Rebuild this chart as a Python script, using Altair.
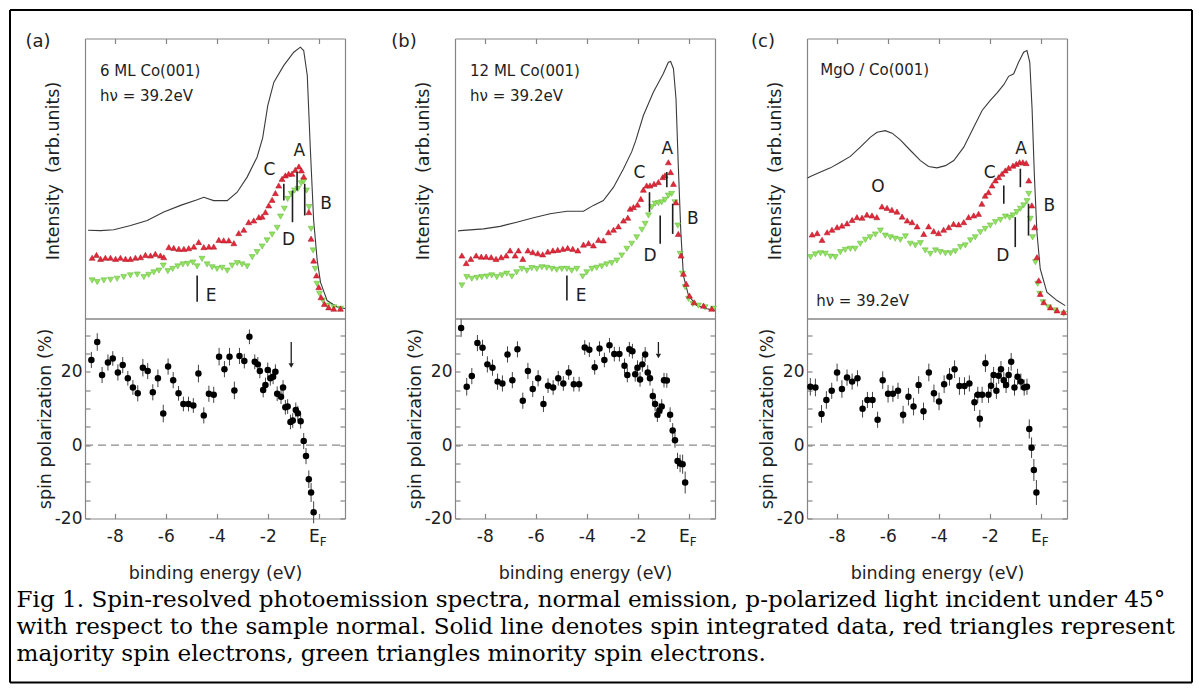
import altair as alt
import pandas as pd

# ---------------------------------------------------------------- styles
SANS = "DejaVu Sans"
SERIF = "DejaVu Serif"
FRAME = "#858585"
INK = "#1e1e1e"
LINE_C = "#3a3a3a"
RED_FILL, RED_EDGE = "#e4283c", "#a8141f"
GREEN_FILL, GREEN_EDGE = "#92e25e", "#5cb43a"

X_DOMAIN = [-9.17, 1.03]
INT_DOMAIN = [0, 100]
POL_DOMAIN = [-20, 34.5]
PW, TOP_H, BOT_H = 260, 280, 200
X_TICKS = [-8, -6, -4, -2, 0]
P_TICKS = [-20, -15, -10, -5, 0, 5, 10, 15, 20, 25, 30]

# ---------------------------------------------------------------- data (a) 6 ML Co(001)
A_LINE = [(-9.05, 31.5), (-8.56, 31.4), (-8.04, 31.7), (-7.38, 33.2), (-6.73, 35.0), (-6.08, 38.0),
          (-5.42, 40.4), (-4.77, 42.4), (-4.51, 43.3), (-4.12, 42.1), (-3.59, 42.1), (-3.20, 45.1),
          (-2.81, 50.5), (-2.42, 57.6), (-2.20, 64.5), (-2.00, 76.0), (-1.76, 84.4), (-1.37, 90.4),
          (-0.98, 95.1), (-0.72, 96.9), (-0.59, 95.7), (-0.45, 86.8), (-0.33, 60.6), (-0.20, 35.0),
          (-0.06, 20.7), (0.07, 12.9), (0.33, 6.4), (0.72, 4.1), (1.03, 3.6)]
A_RED = [(-8.89, 21.7), (-8.72, 22.7), (-8.56, 21.3), (-8.37, 21.7), (-8.17, 21.7), (-7.97, 21.3),
         (-7.78, 21.7), (-7.58, 21.3), (-7.39, 21.3), (-7.19, 21.7), (-6.99, 21.9), (-6.80, 22.7),
         (-6.60, 22.5), (-6.41, 23.1), (-6.21, 22.5), (-6.08, 21.9), (-5.88, 25.5), (-5.69, 25.2),
         (-5.49, 24.9), (-5.29, 24.9), (-5.10, 25.1), (-4.90, 25.7), (-4.71, 27.3), (-4.51, 25.5),
         (-4.31, 25.7), (-4.12, 25.7), (-3.92, 28.1), (-3.73, 27.9), (-3.53, 27.9), (-3.33, 26.9),
         (-3.14, 30.5), (-2.94, 31.7), (-2.75, 34.4), (-2.55, 35.0), (-2.35, 36.2), (-2.22, 36.4),
         (-2.09, 38.0), (-1.96, 40.4), (-1.83, 42.4), (-1.70, 44.8), (-1.57, 47.5), (-1.44, 49.9),
         (-1.31, 51.1), (-1.18, 51.7), (-1.05, 51.7), (-0.92, 53.1), (-0.78, 54.3), (-0.68, 52.9),
         (-0.59, 50.7), (-0.39, 38.0), (-0.30, 28.5), (-0.20, 20.7), (-0.09, 15.4), (0.00, 11.2),
         (0.09, 7.6), (0.22, 5.2), (0.39, 4.0), (0.59, 3.5), (0.85, 3.5)]
A_GREEN = [(-8.89, 13.6), (-8.69, 13.0), (-8.43, 13.6), (-8.17, 13.8), (-7.91, 14.2), (-7.65, 14.8),
           (-7.39, 15.4), (-7.12, 15.7), (-6.86, 14.8), (-6.67, 15.6), (-6.47, 16.5), (-6.27, 17.1),
           (-6.10, 18.9), (-5.92, 16.9), (-5.73, 17.7), (-5.53, 18.6), (-5.33, 19.3), (-5.14, 19.5),
           (-4.94, 20.0), (-4.77, 18.6), (-4.58, 21.3), (-4.38, 19.3), (-4.18, 18.3), (-3.99, 17.7),
           (-3.79, 18.1), (-3.59, 17.1), (-3.40, 18.9), (-3.20, 19.8), (-3.01, 19.3), (-2.81, 18.6),
           (-2.61, 21.9), (-2.42, 23.7), (-2.22, 25.7), (-2.03, 27.9), (-1.83, 30.0), (-1.63, 32.4),
           (-1.50, 36.4), (-1.35, 39.2), (-1.22, 42.7), (-1.08, 44.5), (-0.95, 45.7), (-0.82, 46.3),
           (-0.69, 48.3), (-0.59, 49.0), (-0.48, 45.7), (-0.38, 39.8), (-0.30, 32.0), (-0.22, 24.3),
           (-0.14, 17.7), (-0.07, 12.4), (0.03, 8.8), (0.16, 6.4), (0.35, 4.6), (0.59, 4.0), (0.85, 3.5)]
A_MARKS = [("C", -1.37, 42.1, 48.1), ("A", -0.85, 45.7, 52.3), ("D", -1.03, 34.4, 45.7),
           ("B", -0.55, 36.8, 48.1), ("E", -4.77, 6.0, 15.4)]
A_LETTERS = [("A", -0.76, 59.9), ("C", -1.93, 52.9), ("B", 0.29, 41.0), ("D", -1.18, 27.9), ("E", -4.22, 8.2)]
A_NOTES = [("6 ML Co(001)", -8.58, 88.3), ("hν = 39.2eV", -8.58, 79.3)]
A_POL = [(-8.92, 23.2, 2.2), (-8.69, 28.1, 2.4), (-8.50, 19.1, 2.2), (-8.27, 22.5, 2.2), (-8.08, 23.6, 2.0),
         (-7.88, 19.8, 2.2), (-7.69, 21.8, 2.2), (-7.49, 18.2, 2.0), (-7.29, 15.7, 2.0), (-7.10, 14.1, 2.2),
         (-6.90, 21.1, 2.4), (-6.71, 20.2, 2.2), (-6.51, 14.4, 2.2), (-6.31, 18.2, 2.4), (-6.10, 8.6, 2.4),
         (-5.91, 21.4, 2.2), (-5.71, 17.7, 2.2), (-5.50, 14.1, 2.0), (-5.31, 11.2, 2.0), (-5.11, 11.2, 2.0),
         (-4.92, 10.8, 2.0), (-4.72, 19.5, 2.4), (-4.51, 8.1, 2.2), (-4.31, 14.0, 2.2), (-4.12, 13.7, 2.2),
         (-3.91, 24.1, 2.4), (-3.70, 20.7, 2.2), (-3.50, 24.1, 2.4), (-3.31, 14.9, 2.4), (-3.11, 24.3, 2.2),
         (-2.92, 22.9, 2.0), (-2.72, 29.5, 2.0), (-2.51, 22.7, 2.0), (-2.39, 22.0, 2.0), (-2.31, 20.2, 2.0),
         (-2.18, 15.0, 2.0), (-2.09, 16.4, 2.0), (-2.00, 20.5, 2.0), (-1.90, 18.2, 2.0), (-1.79, 18.6, 2.0),
         (-1.70, 20.0, 2.0), (-1.63, 14.0, 2.0), (-1.48, 13.2, 2.0), (-1.40, 15.7, 2.0), (-1.31, 10.3, 2.0),
         (-1.22, 10.5, 2.0), (-1.11, 6.3, 2.0), (-1.02, 6.7, 2.0), (-0.90, 9.6, 2.0), (-0.82, 8.7, 2.0),
         (-0.71, 6.5, 2.0), (-0.59, 1.1, 2.2), (-0.50, -3.0, 2.2), (-0.39, -9.3, 2.4), (-0.30, -12.9, 2.6),
         (-0.20, -18.3, 3.0)]
A_ARROW = (-1.08, 28.1, 22.2, 21.7)   # energy, tail top, tail end, head centre

# ---------------------------------------------------------------- data (b) 12 ML Co(001)
B_LINE = [(-9.05, 31.2), (-8.97, 31.4), (-8.05, 32.0), (-7.40, 32.9), (-6.75, 34.4), (-6.09, 36.0),
          (-5.44, 37.4), (-4.78, 38.3), (-4.13, 38.3), (-3.74, 40.4), (-3.35, 42.1), (-2.95, 46.9),
          (-2.56, 53.5), (-2.24, 59.5), (-2.08, 63.5), (-1.78, 72.5), (-1.39, 80.8), (-1.00, 87.4),
          (-0.80, 91.5), (-0.71, 91.8), (-0.60, 89.2), (-0.50, 78.5), (-0.41, 54.6), (-0.31, 30.8),
          (-0.21, 15.4), (-0.01, 8.2), (0.31, 4.6), (0.71, 3.5), (1.03, 2.9)]
B_RED = [(-8.90, 22.5), (-8.73, 19.8), (-8.55, 21.3), (-8.34, 22.5), (-8.14, 22.1), (-7.95, 22.1),
         (-7.75, 21.9), (-7.56, 21.3), (-7.36, 21.9), (-7.16, 22.5), (-7.01, 24.3), (-6.81, 22.5),
         (-6.68, 24.3), (-6.51, 21.3), (-6.31, 24.3), (-6.12, 23.7), (-5.92, 23.3), (-5.73, 22.9),
         (-5.53, 23.9), (-5.33, 24.3), (-5.14, 24.5), (-4.94, 24.9), (-4.75, 25.2), (-4.55, 24.9),
         (-4.35, 24.3), (-4.13, 26.4), (-3.93, 26.9), (-3.74, 26.1), (-3.54, 28.1), (-3.35, 27.9),
         (-3.15, 30.8), (-2.95, 31.7), (-2.76, 32.9), (-2.56, 35.0), (-2.39, 36.0), (-2.30, 39.2),
         (-2.17, 39.8), (-2.01, 40.7), (-1.88, 42.7), (-1.78, 46.0), (-1.65, 47.5), (-1.52, 47.5),
         (-1.36, 48.1), (-1.19, 48.7), (-1.02, 50.5), (-0.93, 51.1), (-0.80, 55.8), (-0.71, 52.3),
         (-0.60, 48.1), (-0.50, 41.5), (-0.41, 30.2), (-0.30, 22.5), (-0.21, 16.0), (-0.10, 12.4),
         (0.03, 8.2), (0.21, 5.8), (0.58, 4.6), (0.90, 3.5)]
B_GREEN = [(-8.90, 11.8), (-8.71, 14.8), (-8.51, 14.2), (-8.31, 14.5), (-8.12, 14.8), (-7.92, 15.0),
           (-7.73, 15.4), (-7.53, 14.8), (-7.33, 15.4), (-7.14, 16.0), (-6.94, 15.0), (-6.75, 16.5),
           (-6.55, 17.7), (-6.35, 17.1), (-6.16, 18.0), (-5.96, 17.7), (-5.76, 18.3), (-5.57, 18.1),
           (-5.37, 17.7), (-5.18, 17.4), (-4.98, 17.7), (-4.78, 17.7), (-4.59, 17.1), (-4.39, 17.7),
           (-4.16, 15.0), (-4.00, 16.5), (-3.80, 17.7), (-3.61, 18.1), (-3.41, 18.6), (-3.22, 19.3),
           (-3.02, 19.8), (-2.82, 20.7), (-2.63, 22.5), (-2.43, 24.9), (-2.24, 26.7), (-2.04, 29.0),
           (-1.84, 31.7), (-1.71, 33.8), (-1.58, 36.8), (-1.45, 39.8), (-1.32, 41.0), (-1.19, 41.2),
           (-1.06, 41.5), (-0.93, 42.4), (-0.80, 43.9), (-0.67, 44.5), (-0.54, 41.5), (-0.43, 33.2),
           (-0.34, 23.1), (-0.25, 16.0), (-0.14, 11.2), (-0.01, 7.0), (0.16, 5.2), (0.38, 4.6),
           (0.64, 4.0), (0.97, 3.5)]
B_MARKS = [("A", -0.86, 46.9, 52.3), ("C", -1.54, 38.0, 45.1), ("B", -0.63, 30.2, 41.0),
           ("D", -1.12, 26.7, 36.8), ("E", -4.78, 6.4, 15.4)]
B_LETTERS = [("A", -0.84, 60.6), ("C", -1.93, 52.0), ("B", 0.16, 35.4), ("D", -1.52, 22.3), ("E", -4.22, 8.2)]
B_NOTES = [("12 ML Co(001)", -8.58, 88.3), ("hν = 39.2eV", -8.58, 79.3)]
B_POL = [(-8.93, 31.9, 2.4), (-8.71, 15.9, 2.4), (-8.51, 18.8, 2.2), (-8.29, 27.8, 2.2), (-8.09, 26.5, 2.2),
         (-7.90, 22.0, 2.2), (-7.70, 21.1, 2.2), (-7.50, 17.3, 2.2), (-7.31, 16.8, 2.2), (-7.11, 24.7, 2.2),
         (-6.92, 17.7, 2.2), (-6.72, 26.1, 2.2), (-6.51, 12.1, 2.2), (-6.31, 20.2, 2.2), (-6.12, 15.3, 2.2),
         (-5.91, 18.2, 2.2), (-5.70, 11.2, 2.2), (-5.52, 16.2, 2.0), (-5.32, 15.7, 2.0), (-5.12, 18.2, 2.0),
         (-4.92, 16.8, 2.0), (-4.71, 19.8, 2.0), (-4.51, 16.6, 2.0), (-4.30, 16.6, 2.0), (-4.08, 26.6, 2.0),
         (-3.90, 26.0, 2.0), (-3.69, 21.2, 2.0), (-3.50, 26.3, 2.0), (-3.31, 23.2, 2.0), (-3.11, 27.2, 2.0),
         (-2.92, 24.8, 2.0), (-2.72, 24.8, 2.0), (-2.52, 21.6, 2.0), (-2.41, 19.1, 2.0), (-2.33, 26.1, 2.0),
         (-2.21, 25.6, 2.0), (-2.10, 19.3, 2.0), (-2.01, 21.1, 2.0), (-1.91, 17.9, 2.0), (-1.82, 22.0, 2.0),
         (-1.71, 24.7, 2.0), (-1.61, 19.8, 2.0), (-1.52, 18.2, 2.0), (-1.41, 13.4, 2.0), (-1.32, 11.2, 2.0),
         (-1.23, 8.3, 2.0), (-1.15, 9.4, 2.0), (-1.06, 10.5, 2.0), (-0.97, 17.7, 2.0), (-0.86, 17.6, 2.0),
         (-0.73, 8.3, 2.0), (-0.63, 4.0, 2.0), (-0.54, 1.3, 2.0), (-0.44, -4.3, 2.2), (-0.34, -5.0, 2.4),
         (-0.24, -5.2, 2.6), (-0.14, -10.2, 3.0)]
B_ARROW = (-1.19, 28.1, 24.9, 24.3)

# ---------------------------------------------------------------- data (c) MgO / Co(001)
C_LINE = [(-9.15, 50.2), (-9.04, 50.7), (-8.64, 52.3), (-8.25, 53.8), (-7.86, 55.8), (-7.47, 57.9),
          (-7.08, 61.2), (-6.68, 64.8), (-6.42, 66.5), (-6.10, 67.1), (-5.83, 66.2), (-5.51, 63.8),
          (-5.11, 60.0), (-4.72, 56.4), (-4.40, 54.3), (-4.07, 53.8), (-3.74, 54.6), (-3.41, 56.4),
          (-3.02, 61.2), (-2.63, 68.3), (-2.30, 74.3), (-1.98, 77.9), (-1.72, 80.5), (-1.45, 83.5),
          (-1.26, 86.5), (-1.06, 87.4), (-0.87, 91.5), (-0.67, 95.1), (-0.54, 95.7), (-0.43, 91.5),
          (-0.34, 74.9), (-0.25, 51.1), (-0.15, 30.8), (-0.02, 17.7), (0.24, 9.4), (0.64, 6.4), (0.96, 4.6)]
C_RED = [(-8.97, 30.0), (-8.77, 30.5), (-8.58, 28.1), (-8.38, 30.8), (-8.19, 31.7), (-7.99, 32.6),
         (-7.80, 33.2), (-7.60, 34.0), (-7.40, 35.2), (-7.21, 36.2), (-7.01, 36.0), (-6.82, 37.1),
         (-6.62, 36.8), (-6.43, 36.2), (-6.23, 40.0), (-6.03, 39.5), (-5.84, 38.8), (-5.64, 38.2),
         (-5.44, 36.4), (-5.24, 35.0), (-5.05, 34.4), (-4.85, 32.9), (-4.59, 30.2), (-4.40, 32.9),
         (-4.20, 31.2), (-4.01, 30.5), (-3.81, 31.7), (-3.61, 32.6), (-3.42, 33.8), (-3.22, 33.6),
         (-3.02, 34.4), (-2.83, 36.2), (-2.63, 36.8), (-2.44, 37.4), (-2.31, 41.0), (-2.18, 43.9),
         (-2.05, 45.1), (-1.91, 47.5), (-1.78, 49.3), (-1.65, 50.5), (-1.52, 51.7), (-1.39, 52.9),
         (-1.26, 53.8), (-1.09, 54.6), (-0.96, 55.2), (-0.83, 55.8), (-0.70, 55.8), (-0.57, 55.5),
         (-0.47, 49.3), (-0.35, 40.4), (-0.24, 32.6), (-0.15, 21.9), (-0.08, 13.6), (-0.02, 8.8),
         (0.12, 5.8), (0.38, 4.0), (0.64, 2.9), (0.90, 2.3)]
C_GREEN = [(-9.03, 21.9), (-8.84, 22.9), (-8.64, 23.3), (-8.45, 23.1), (-8.25, 22.1), (-8.06, 21.9),
           (-7.86, 23.7), (-7.67, 24.5), (-7.47, 24.9), (-7.28, 24.9), (-7.08, 26.7), (-6.88, 28.1),
           (-6.69, 29.0), (-6.49, 30.0), (-6.29, 31.4), (-6.10, 29.6), (-5.90, 29.0), (-5.71, 28.5),
           (-5.51, 28.1), (-5.31, 29.3), (-5.12, 26.7), (-4.92, 26.1), (-4.72, 26.9), (-4.53, 24.3),
           (-4.33, 23.1), (-4.13, 24.3), (-3.94, 23.7), (-3.74, 23.3), (-3.54, 23.3), (-3.35, 24.0),
           (-3.15, 25.5), (-2.96, 26.1), (-2.76, 27.9), (-2.57, 29.0), (-2.37, 30.8), (-2.18, 32.0),
           (-1.98, 33.2), (-1.78, 34.4), (-1.58, 35.2), (-1.39, 36.4), (-1.22, 36.0), (-1.09, 36.8),
           (-0.94, 38.0), (-0.80, 39.2), (-0.67, 40.4), (-0.54, 41.9), (-0.47, 44.5), (-0.41, 35.6),
           (-0.32, 29.0), (-0.21, 20.1), (-0.12, 12.4), (-0.04, 8.8), (0.09, 5.8), (0.31, 4.0),
           (0.57, 2.9), (0.90, 1.7)]
C_MARKS = [("A", -0.80, 46.9, 53.5), ("C", -1.45, 41.0, 47.5), ("B", -0.48, 29.6, 41.0), ("D", -1.00, 25.5, 36.2)]
C_LETTERS = [("A", -0.77, 60.4), ("C", -2.00, 52.0), ("O", -6.39, 46.9), ("B", 0.34, 40.1), ("D", -1.49, 22.5)]
C_NOTES = [("MgO / Co(001)", -8.65, 88.9), ("hν = 39.2eV", -8.81, 6.4)]
C_POL = [(-9.04, 15.9, 2.4), (-8.84, 15.7, 2.4), (-8.60, 8.5, 2.4), (-8.41, 12.3, 2.4), (-8.20, 14.8, 2.2),
         (-7.99, 19.8, 2.4), (-7.80, 15.3, 2.4), (-7.60, 18.4, 2.2), (-7.40, 17.3, 2.2), (-7.19, 18.2, 2.2),
         (-6.99, 9.9, 2.4), (-6.80, 12.3, 2.2), (-6.60, 12.3, 2.2), (-6.40, 6.9, 2.2), (-6.20, 17.7, 2.4),
         (-5.99, 14.0, 2.4), (-5.80, 14.0, 2.2), (-5.60, 14.8, 2.2), (-5.40, 8.3, 2.4), (-5.19, 13.2, 2.4),
         (-4.99, 10.5, 2.4), (-4.79, 16.4, 2.4), (-4.60, 9.2, 2.4), (-4.39, 19.8, 2.4), (-4.19, 14.1, 2.4),
         (-3.99, 11.9, 2.4), (-3.79, 16.6, 2.4), (-3.58, 18.6, 2.4), (-3.38, 20.7, 2.4), (-3.19, 16.1, 2.4),
         (-2.99, 16.1, 2.4), (-2.80, 16.8, 2.2), (-2.60, 11.7, 2.4), (-2.47, 13.7, 2.2), (-2.39, 7.2, 2.4),
         (-2.30, 13.7, 2.2), (-2.17, 22.3, 2.4), (-2.05, 13.7, 2.2), (-1.95, 16.2, 2.2), (-1.85, 19.1, 2.2),
         (-1.74, 14.8, 2.2), (-1.65, 18.9, 2.2), (-1.56, 20.7, 2.2), (-1.45, 17.7, 2.2), (-1.36, 16.4, 2.2),
         (-1.26, 19.1, 2.2), (-1.16, 22.7, 2.4), (-1.03, 15.7, 2.2), (-0.91, 18.6, 2.2), (-0.78, 17.3, 2.2),
         (-0.65, 15.7, 2.2), (-0.54, 15.9, 2.2), (-0.45, 4.4, 2.6), (-0.36, -0.7, 2.8), (-0.27, -6.8, 3.0),
         (-0.17, -12.9, 3.4)]

CAPTION = [
    "Fig 1. Spin-resolved photoemission spectra, normal emission, p-polarized light incident under 45°",
    "with respect to the sample normal. Solid line denotes spin integrated data, red triangles represent",
    "majority spin electrons, green triangles minority spin electrons.",
]

# ---------------------------------------------------------------- layout constants (pixels)
COL_GAP = 92          # gap between panel (b) and (c)
A_EXTRA = 18          # extra room right of panel (a)
ORIGIN_A_BOT = (85, 318)
BORDER = dict(left=10, top=9.5, right=1192, bottom=682)
CAPTION_POS = (16.5, 606.5)


def axis(**kw):
    base = dict(grid=False, domainColor=FRAME, domainWidth=1.2, tickColor=FRAME, tickWidth=1.2,
                labelFont=SANS, labelColor=INK, titleFont=SANS, titleColor=INK,
                titleFontWeight="normal", labelFontSize=17, titleFontSize=17.5)
    base.update(kw)
    return alt.Axis(**base)


def frame_axis(orient, offset=0):
    return axis(orient=orient, offset=offset, domain=True, ticks=False, labels=False, title=None)


def carriers(df, xf, yf, xs, ys, pairs):
    out = []
    for xa, ya in pairs:
        out.append(alt.Chart(df).mark_point(opacity=0).encode(
            x=alt.X(f"{xf}:Q", scale=xs, axis=xa),
            y=alt.Y(f"{yf}:Q", scale=ys, axis=ya)))
    return out


def x_scale():
    return alt.Scale(domain=X_DOMAIN, range=[0, PW], nice=False, zero=False)


def top_panel(line, red, green, marks, letters, notes, tag, tag_x, extra):
    xs = x_scale()
    ys = alt.Scale(domain=INT_DOMAIN, nice=False, zero=False)
    X = lambda f="E": alt.X(f"{f}:Q", scale=xs, axis=None)
    Y = lambda f: alt.Y(f"{f}:Q", scale=ys, axis=None)
    line_df = pd.DataFrame(line, columns=["E", "I"])
    red_df = pd.DataFrame(red, columns=["E", "I"])
    green_df = pd.DataFrame(green, columns=["E", "I"])
    mark_df = pd.DataFrame(marks, columns=["name", "E", "I1", "I2"])
    letter_df = pd.DataFrame(letters, columns=["name", "E", "I"])
    note_df = pd.DataFrame(notes, columns=["text", "E", "I"])
    tag_df = pd.DataFrame({"t": [tag]})

    pairs = [
        (frame_axis("bottom"),
         axis(orient="left", domain=True, ticks=False, labels=False,
              title="Intensity\u00a0 (arb.units)", titleX=-32, titleY=132,
              titleBaseline="middle", titleAngle=-90)),
        (frame_axis("top"), frame_axis("right", -extra)),
        (axis(orient="top", offset=-5, domain=False, ticks=True, tickSize=5, values=X_TICKS,
              labels=False, title=None), None),
    ]
    layers = carriers(line_df, "E", "I", xs, ys, pairs)
    layers += [
        alt.Chart(line_df).mark_line(color=LINE_C, strokeWidth=1.1).encode(x=X(), y=Y("I")),
        alt.Chart(green_df).mark_point(shape="triangle-down", filled=True, size=36, fill=GREEN_FILL,
                                       stroke=GREEN_EDGE, strokeWidth=0.5, opacity=1).encode(x=X(), y=Y("I")),
        alt.Chart(red_df).mark_point(shape="triangle-up", filled=True, size=36, fill=RED_FILL,
                                     stroke=RED_EDGE, strokeWidth=0.5, opacity=1).encode(x=X(), y=Y("I")),
        alt.Chart(mark_df).mark_rule(color=INK, strokeWidth=1.6).encode(x=X(), y=Y("I1"), y2="I2"),
        alt.Chart(letter_df).mark_text(font=SANS, fontSize=17, color=INK, align="center",
                                       baseline="middle").encode(x=X(), y=Y("I"), text="name:N"),
        alt.Chart(note_df).mark_text(font=SANS, fontSize=15, color=INK, align="left",
                                     baseline="middle").encode(x=X(), y=Y("I"), text="text:N"),
        alt.Chart(tag_df).mark_text(font=SANS, fontSize=18, color=INK, align="center",
                                    baseline="middle").encode(x=alt.value(tag_x), y=alt.value(3), text="t:N"),
    ]
    return alt.layer(*layers).resolve_axis(x="independent", y="independent").properties(
        width=PW + extra, height=TOP_H)


def bottom_panel(pol, arrow, extra, decorate=False):
    xs = x_scale()
    ys = alt.Scale(domain=POL_DOMAIN, nice=False, zero=False)
    X = lambda f="E": alt.X(f"{f}:Q", scale=xs, axis=None)
    Y = lambda f: alt.Y(f"{f}:Q", scale=ys, axis=None)
    pol_df = pd.DataFrame(pol, columns=["E", "P", "err"])
    pol_df["lo"] = pol_df["P"] - pol_df["err"]
    pol_df["hi"] = pol_df["P"] + pol_df["err"]
    zero_df = pd.DataFrame({"E0": [X_DOMAIN[0]], "E1": [X_DOMAIN[1]], "P": [0.0]})
    ef_df = pd.DataFrame({"E": [0.0], "t": ["E"], "s": ["F"]})

    xlab = "datum.value == 0 ? '' : (datum.value < 0 ? '-' + abs(datum.value) : '' + datum.value)"
    ylab = "datum.value % 20 == 0 ? (datum.value < 0 ? '-' + abs(datum.value) : '' + datum.value) : ''"
    pairs = [
        (axis(orient="bottom", offset=-5, domain=False, ticks=True, tickSize=5, values=X_TICKS,
              labelExpr=xlab, labelPadding=10, labelFlush=False, labelOverlap=False,
              title="binding energy (eV)", titleY=60, titleBaseline="middle"),
         axis(orient="left", offset=-5, domain=False, ticks=True, tickSize=5, values=P_TICKS,
              labelExpr=ylab, labelPadding=3, labelFlush=False, labelOverlap=False,
              title="spin polarization (%)", titleX=-45, titleY=100, titleBaseline="middle",
              titleAngle=-90)),
        (frame_axis("bottom"), frame_axis("left")),
        (frame_axis("top"), frame_axis("right", -extra)),
        (None, axis(orient="right", offset=-(extra + 5), domain=False, ticks=True, tickSize=5,
                    values=P_TICKS, labels=False, title=None)),
    ]
    layers = carriers(pol_df, "E", "P", xs, ys, pairs)
    layers += [
        alt.Chart(zero_df).mark_rule(color="#8a8a8a", strokeWidth=1.2, strokeDash=[8, 5]).encode(
            x=X("E0"), x2="E1", y=Y("P")),
        alt.Chart(pol_df).mark_rule(color="#444444", strokeWidth=1).encode(x=X(), y=Y("lo"), y2="hi"),
        alt.Chart(pol_df).mark_circle(size=42, color="black", opacity=1).encode(x=X(), y=Y("P")),
        alt.Chart(ef_df).mark_text(font=SANS, fontSize=17, color=INK, align="right", baseline="alphabetic",
                                   dx=1).encode(x=X(), y=alt.value(223.5), text="t:N"),
        alt.Chart(ef_df).mark_text(font=SANS, fontSize=12, color=INK, align="left", baseline="alphabetic",
                                   dx=1).encode(x=X(), y=alt.value(227.5), text="s:N"),
    ]
    if arrow is not None:
        arr_df = pd.DataFrame([arrow], columns=["E", "top", "end", "head"])
        layers += [
            alt.Chart(arr_df).mark_rule(color=INK, strokeWidth=1.3).encode(x=X(), y=Y("top"), y2="end"),
            alt.Chart(arr_df).mark_point(shape="triangle-down", filled=True, size=28, color=INK,
                                         opacity=1).encode(x=X(), y=Y("head")),
        ]
    if decorate:
        ox, oy = ORIGIN_A_BOT
        one = pd.DataFrame({"k": [0]})
        L, T, R, B = (BORDER["left"] - ox, BORDER["top"] - oy, BORDER["right"] - ox, BORDER["bottom"] - oy)
        rule = dict(color="black", strokeWidth=2)
        cap_df = pd.DataFrame({"t": ["\n".join(CAPTION)]})
        layers += [
            alt.Chart(one).mark_rule(**rule).encode(x=alt.value(L), y=alt.value(T), y2=alt.value(B)),
            alt.Chart(one).mark_rule(**rule).encode(x=alt.value(R), y=alt.value(T), y2=alt.value(B)),
            alt.Chart(one).mark_rule(**rule).encode(y=alt.value(T), x=alt.value(L), x2=alt.value(R)),
            alt.Chart(one).mark_rule(**rule).encode(y=alt.value(B), x=alt.value(L), x2=alt.value(R)),
            alt.Chart(cap_df).mark_text(font=SERIF, fontSize=23.1, lineHeight=27, align="left",
                                        baseline="alphabetic", lineBreak="\n", color="black").encode(
                x=alt.value(CAPTION_POS[0] - ox), y=alt.value(CAPTION_POS[1] - oy), text="t:N"),
        ]
    return alt.layer(*layers).resolve_axis(x="independent", y="independent").properties(
        width=PW + extra, height=BOT_H)


a_top = top_panel(A_LINE, A_RED, A_GREEN, A_MARKS, A_LETTERS, A_NOTES, "(a)", -47, A_EXTRA)
b_top = top_panel(B_LINE, B_RED, B_GREEN, B_MARKS, B_LETTERS, B_NOTES, "(b)", -51, 0)
c_top = top_panel(C_LINE, C_RED, C_GREEN, C_MARKS, C_LETTERS, C_NOTES, "(c)", -44, 0)
a_bot = bottom_panel(A_POL, A_ARROW, A_EXTRA, decorate=True)
b_bot = bottom_panel(B_POL, B_ARROW, 0)
c_bot = bottom_panel(C_POL, None, 0)

chart = alt.concat(
    a_top, b_top, c_top, a_bot, b_bot, c_bot,
    columns=3, spacing={"row": 0, "column": COL_GAP}, bounds="flush", align="each",
).properties(
    padding={"left": 9, "top": 8.5, "right": 0, "bottom": 0},
    background="white",
).configure_view(stroke=None)

chart.save("out.html", embed_options={"renderer": "svg", "actions": False})
